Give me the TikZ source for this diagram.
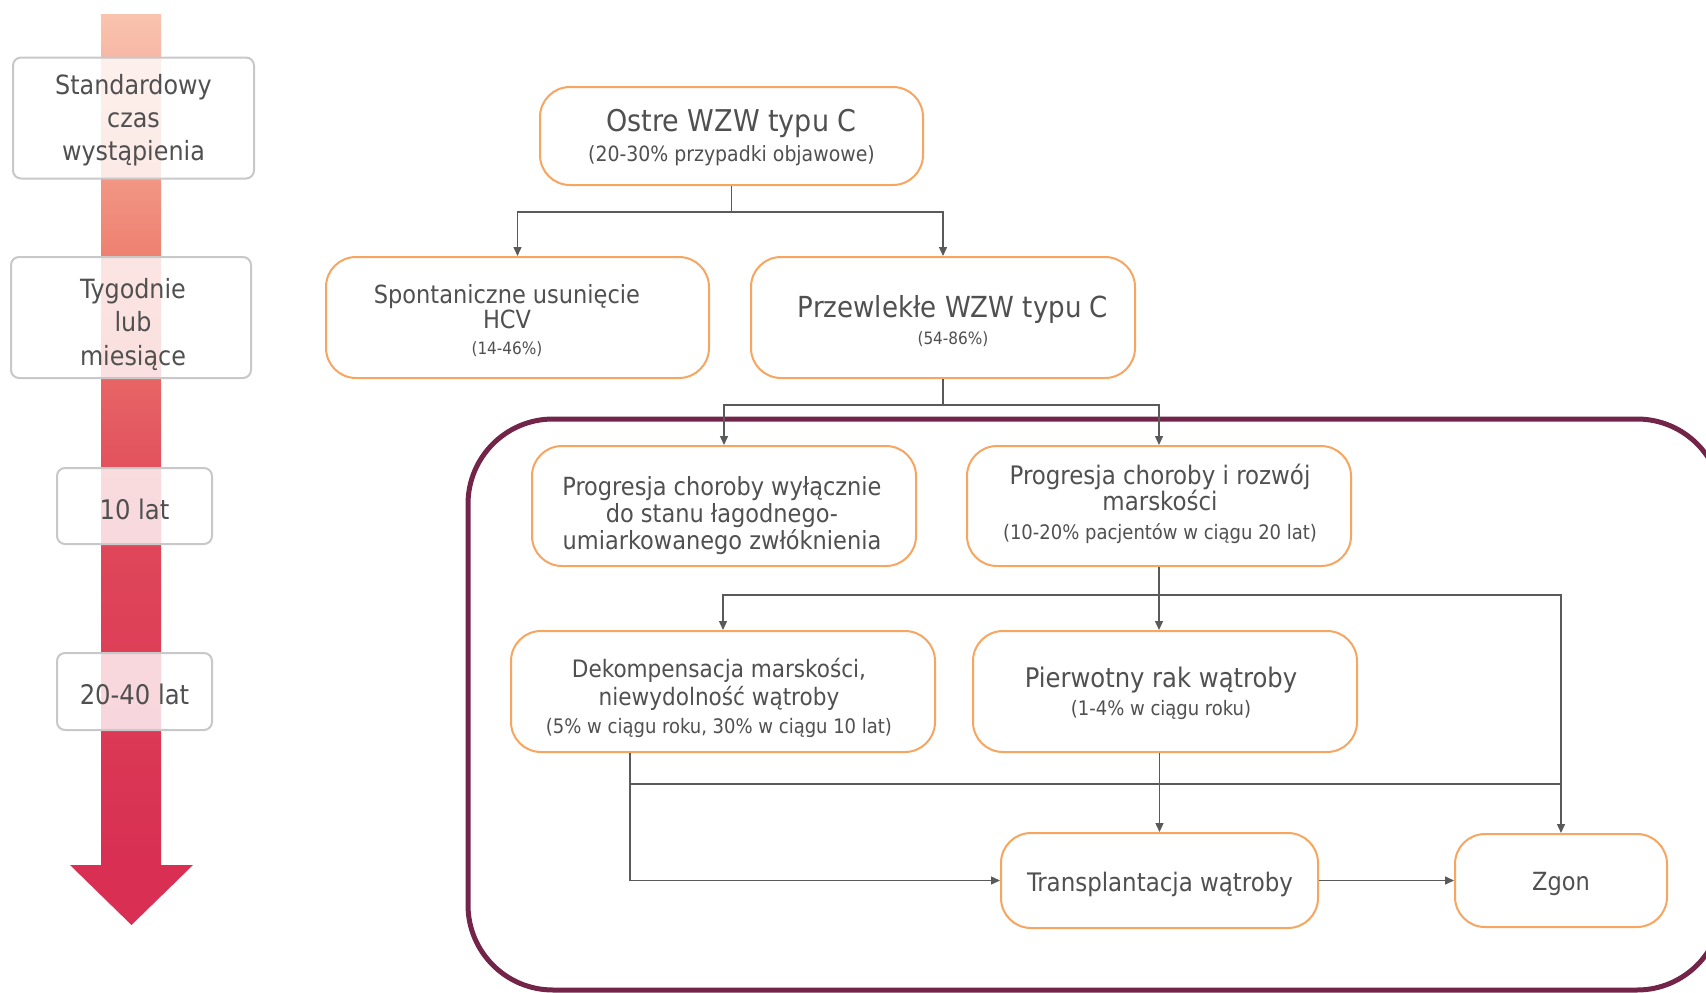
\documentclass[tikz,border=0pt]{standalone}
\usepackage{fontspec}
\setmainfont{DejaVu Sans Condensed}
\usetikzlibrary{arrows.meta,calc}
\definecolor{obor}{HTML}{F6A660}
\definecolor{txt}{HTML}{505050}
\definecolor{conn}{HTML}{5A5A5A}
\definecolor{purp}{HTML}{722549}
\definecolor{gbor}{HTML}{C8C8C8}
\definecolor{a1}{HTML}{F9C4AF}
\definecolor{a2}{HTML}{EE7F6F}
\definecolor{a3}{HTML}{E04A5B}
\definecolor{a4}{HTML}{D82F52}
\newcommand\fsz[1]{\fontsize{#1}{#1}\selectfont}
\begin{document}
\begin{tikzpicture}[x=1pt,y=-1pt,
 obox/.style={draw=obor, line width=2pt, rounded corners=30pt, fill=white, inner sep=0pt},
 gbox/.style={draw=gbor, line width=2pt, rounded corners=8pt, fill=white, fill opacity=0.8, inner sep=0pt},
 tl/.style={anchor=base, text=txt, inner sep=0pt},
 link/.style={draw=conn, line width=1.4pt},
 arr/.style={-{Triangle[length=9pt,width=8pt]}},
]
\useasboundingbox (0,0) rectangle (1706,993);
% timeline arrow
\shade[top color=a1, bottom color=a2] (101,14) rectangle (161,261);
\shade[top color=a2, bottom color=a3] (101,260) rectangle (161,501);
\shade[top color=a3, bottom color=a4] (101,500) rectangle (161,866);
\fill[a4] (70,865) -- (193,865) -- (131.5,925) -- cycle;
% left boxes
\node[gbox, minimum width=241pt, minimum height=121pt] (lb1) at (133.5,118) {};
\node[tl, font=\fsz{26.5}] (lb1a) at (133.5,94) {Standardowy};
\node[tl, font=\fsz{26.5}] (lb1b) at (133.5,127) {czas};
\node[tl, font=\fsz{26.5}] (lb1c) at (133.5,160) {wystąpienia};
\node[gbox, minimum width=240pt, minimum height=121pt] (lb2) at (131,317.5) {};
\node[tl, font=\fsz{26.5}] (lb2a) at (133,298) {Tygodnie};
\node[tl, font=\fsz{26.5}] (lb2b) at (133,331.5) {lub};
\node[tl, font=\fsz{26.5}] (lb2c) at (133,365) {miesiące};
\node[gbox, minimum width=155pt, minimum height=76pt] (lb3) at (134.5,506) {};
\node[tl, font=\fsz{27}] (lb3a) at (134.5,519) {10 lat};
\node[gbox, minimum width=155pt, minimum height=77pt] (lb4) at (134.5,691.5) {};
\node[tl, font=\fsz{27}] (lb4a) at (134.5,704) {20-40 lat};
% group frame
\draw[purp, line width=5pt, rounded corners=85pt] (468,419) rectangle (1722,990);
% boxes
\node[obox, minimum width=383pt, minimum height=98pt] (ostre) at (731.5,136) {};
\node[tl, font=\fsz{30}] (ostre1) at (731.5,131) {Ostre WZW typu C};
\node[tl, font=\fsz{21}] (ostre2) at (731.5,161) {(20-30\% przypadki objawowe)};
\node[obox, minimum width=383pt, minimum height=121pt] (spont) at (517.5,317.5) {};
\node[tl, font=\fsz{25}] (spont1) at (507,303) {Spontaniczne usunięcie};
\node[tl, font=\fsz{25}] (spont2) at (507,328) {HCV};
\node[tl, font=\fsz{17}] (spont3) at (507,354) {(14-46\%)};
\node[obox, minimum width=384pt, minimum height=121pt] (przew) at (943,317.5) {};
\node[tl, font=\fsz{29}] (przew1) at (953,317) {Przewlekłe WZW typu C};
\node[tl, font=\fsz{17}] (przew2) at (953,344) {(54-86\%)};
\node[obox, minimum width=384pt, minimum height=120pt] (prog1) at (724,506) {};
\node[tl, font=\fsz{25}] (prog1a) at (722,495) {Progresja choroby wyłącznie};
\node[tl, font=\fsz{25}] (prog1b) at (722,522) {do stanu łagodnego-};
\node[tl, font=\fsz{25}] (prog1c) at (722,549) {umiarkowanego zwłóknienia};
\node[obox, minimum width=384pt, minimum height=120pt] (prog2) at (1159,506) {};
\node[tl, font=\fsz{25.5}] (prog2a) at (1160,484) {Progresja choroby i rozwój};
\node[tl, font=\fsz{25.5}] (prog2b) at (1160,510) {marskości};
\node[tl, font=\fsz{20}] (prog2c) at (1160,539) {(10-20\% pacjentów w ciągu 20 lat)};
\node[obox, minimum width=424pt, minimum height=121pt] (dek) at (723,691.5) {};
\node[tl, font=\fsz{24}] (dek1) at (719,677) {Dekompensacja marskości,};
\node[tl, font=\fsz{24}] (dek2) at (719,705) {niewydolność wątroby};
\node[tl, font=\fsz{20}] (dek3) at (719,733) {(5\% w ciągu roku, 30\% w ciągu 10 lat)};
\node[obox, minimum width=384pt, minimum height=121pt] (pier) at (1165,691.5) {};
\node[tl, font=\fsz{27}] (pier1) at (1161,687) {Pierwotny rak wątroby};
\node[tl, font=\fsz{20}] (pier2) at (1161,715) {(1-4\% w ciągu roku)};
\node[obox, minimum width=317pt, minimum height=95pt] (trans) at (1159.5,880.5) {};
\node[tl, font=\fsz{25.5}] (trans1) at (1160,891) {Transplantacja wątroby};
\node[obox, minimum width=212pt, minimum height=93pt] (zgon) at (1561,880.5) {};
\node[tl, font=\fsz{25}] (zgon1) at (1561,890) {Zgon};
% connectors
\coordinate (j1) at ($(ostre.south)+(0,26)$);
\draw[link] (ostre.south) -- (j1);
\draw[link,arr] (j1) -| (spont.north);
\draw[link,arr] (j1) -| (przew.north);
\coordinate (j2) at ($(przew.south)+(0,26)$);
\draw[link] (przew.south) -- (j2);
\draw[link,arr] (j2) -| (prog1.north);
\draw[link,arr] (j2) -| (prog2.north);
\coordinate (j3) at ($(prog2.south)+(0,28)$);
\draw[link,arr] (prog2.south) -- (prog2.south |- pier.north);
\draw[link,arr] (j3) -| (dek.north);
\draw[link,arr] (j3) -| (zgon.north);
\coordinate (dk) at ($(dek.south west)+(120,0)$);
\draw[link,arr] (dk) |- (trans.west);
\coordinate (j4) at ($(dk)+(0,31)$);
\draw[link] (j4) -- (j4 -| zgon.north);
\draw[link,arr] (trans.north |- pier.south) -- (trans.north);
\draw[link,arr] (trans.east) -- (zgon.west);
\end{tikzpicture}
\end{document}
